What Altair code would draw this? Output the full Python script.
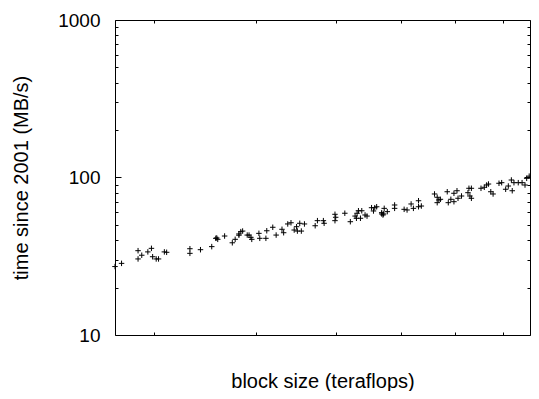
import altair as alt
import pandas as pd

x_vals = [2.69, 2.74, 2.87, 2.87, 2.90, 2.95, 2.98, 2.99, 3.02, 3.04,
          3.09, 3.11, 3.32, 3.32, 3.42, 3.53, 3.57, 3.59, 3.58, 3.66,
          3.74, 3.77, 3.81, 3.83, 3.85, 3.90, 3.81, 3.92, 3.95, 3.94,
          4.03, 4.04, 4.11, 4.12, 4.19, 4.23, 4.30, 4.32, 4.37, 4.41,
          4.45, 4.48, 4.49, 4.52, 4.54, 4.58, 4.72, 4.75, 4.83, 4.84,
          4.99, 4.99, 5.00, 5.13, 5.21, 5.28, 5.30, 5.31, 5.33, 5.36,
          5.38, 5.43, 5.46, 5.53, 5.56, 5.58, 5.69, 5.72, 5.61, 5.69,
          5.73, 5.71, 5.78, 5.90, 5.90, 6.06, 6.11, 6.18, 6.22, 6.31,
          6.31, 6.36, 6.60, 6.65, 6.68, 6.71, 6.65, 6.84, 6.86, 6.91,
          6.97, 6.97, 7.03, 7.05, 7.12, 7.25, 7.27, 7.32, 7.29, 7.32,
          7.52, 7.59, 7.64, 7.68, 7.73, 7.78, 7.91, 7.97, 8.06, 8.12,
          8.19, 8.21, 8.25, 8.35, 8.44, 8.51, 8.55, 8.61]
y_vals = [27.2, 28.5, 34.3, 30.4, 32.1, 33.7, 35.5, 31.4, 30.4, 30.4,
          33.7, 33.5, 35.3, 33.0, 34.8, 36.4, 41.1, 40.5, 41.3, 42.5,
          38.5, 40.5, 43.0, 45.3, 45.7, 43.1, 43.8, 43.1, 40.5, 41.7,
          44.2, 41.1, 41.1, 45.9, 48.3, 43.1, 46.9, 44.6, 50.7, 51.6,
          46.4, 48.7, 45.7, 51.2, 45.7, 50.7, 49.4, 53.2, 53.2, 51.2,
          58.4, 53.2, 55.9, 59.3, 52.4, 56.9, 55.1, 59.3, 61.5, 55.1,
          61.5, 57.8, 56.9, 64.3, 61.3, 64.3, 59.8, 58.7, 65.2, 58.7,
          63.7, 57.8, 60.7, 66.9, 63.7, 62.8, 62.2, 67.9, 63.7, 71.2,
          65.2, 65.9, 78.6, 74.9, 72.0, 72.7, 69.2, 81.2, 69.2, 72.7,
          70.2, 79.4, 82.4, 73.8, 76.3, 80.1, 85.4, 85.4, 76.3, 73.8,
          85.4, 86.7, 89.6, 90.9, 81.2, 78.6, 91.9, 92.7, 84.2, 88.3,
          96.4, 82.4, 92.7, 92.7, 92.7, 89.6, 98.8, 102.0]

x_minor_ticks = [3, 4, 5, 6, 7, 8]
y_major_ticks = [10, 100, 1000]
y_minor_ticks = [20, 30, 40, 50, 60, 70, 80, 90,
                 200, 300, 400, 500, 600, 700, 800, 900]

x_title = "block size (teraflops)"
y_title = "time since 2001 (MB/s)"

df = pd.DataFrame({"x": x_vals, "y": y_vals})

xs = alt.Scale(type="log", domain=[2.69, 8.63], nice=False)
ys = alt.Scale(type="log", domain=[10, 1000], nice=False)

FONT = "Liberation Sans"


def tick_axis(orient, values, size):
    return alt.Axis(orient=orient, values=values, tickSize=size, offset=-size,
                    labels=False, domain=False, grid=False, title=None,
                    ticks=True, tickColor="black", tickWidth=1)


plus = "M-1,0L1,0M0,-1L0,1"

points = alt.Chart(df).mark_point(
    shape=plus, size=30, filled=False, stroke="black", strokeWidth=1, opacity=1
).encode(
    x=alt.X("x:Q", scale=xs, axis=alt.Axis(
        orient="bottom", title=x_title, labels=False, ticks=False, domain=False,
        grid=False, titleFont=FONT, titleFontSize=20, titleFontWeight="normal",
        titleColor="black", titleBaseline="alphabetic", titleY=52)),
    y=alt.Y("y:Q", scale=ys, axis=alt.Axis(
        orient="left", values=y_major_ticks, format="d", ticks=False, domain=False,
        grid=False, labelFont=FONT, labelFontSize=19, labelColor="black",
        labelPadding=15, title=y_title, titleFont=FONT, titleFontSize=20,
        titleFontWeight="normal", titleColor="black", titleAngle=270,
        titleBaseline="alphabetic", titleX=-88)),
)

inv = alt.Chart(df).mark_point(opacity=0)

l2 = inv.encode(
    x=alt.X("x:Q", scale=xs, axis=tick_axis("bottom", x_minor_ticks, 3)),
    y=alt.Y("y:Q", scale=ys, axis=tick_axis("left", y_major_ticks, 6)),
)
l3 = inv.encode(
    x=alt.X("x:Q", scale=xs, axis=tick_axis("top", x_minor_ticks, 3)),
    y=alt.Y("y:Q", scale=ys, axis=tick_axis("left", y_minor_ticks, 3)),
)
l4 = inv.encode(
    x=alt.X("x:Q", scale=xs, axis=None),
    y=alt.Y("y:Q", scale=ys, axis=tick_axis("right", y_major_ticks, 6)),
)
l5 = inv.encode(
    x=alt.X("x:Q", scale=xs, axis=None),
    y=alt.Y("y:Q", scale=ys, axis=tick_axis("right", y_minor_ticks, 3)),
)

chart = alt.layer(points, l2, l3, l4, l5).resolve_axis(
    x="independent", y="independent"
).properties(
    width=415, height=315,
    autosize=alt.AutoSizeParams(type="none"),
    padding={"left": 107, "top": 12, "right": 1, "bottom": 56},
    background="white",
).configure_view(stroke="black", strokeWidth=1)

chart.save("out.html", embed_options={"renderer": "svg", "actions": False})
